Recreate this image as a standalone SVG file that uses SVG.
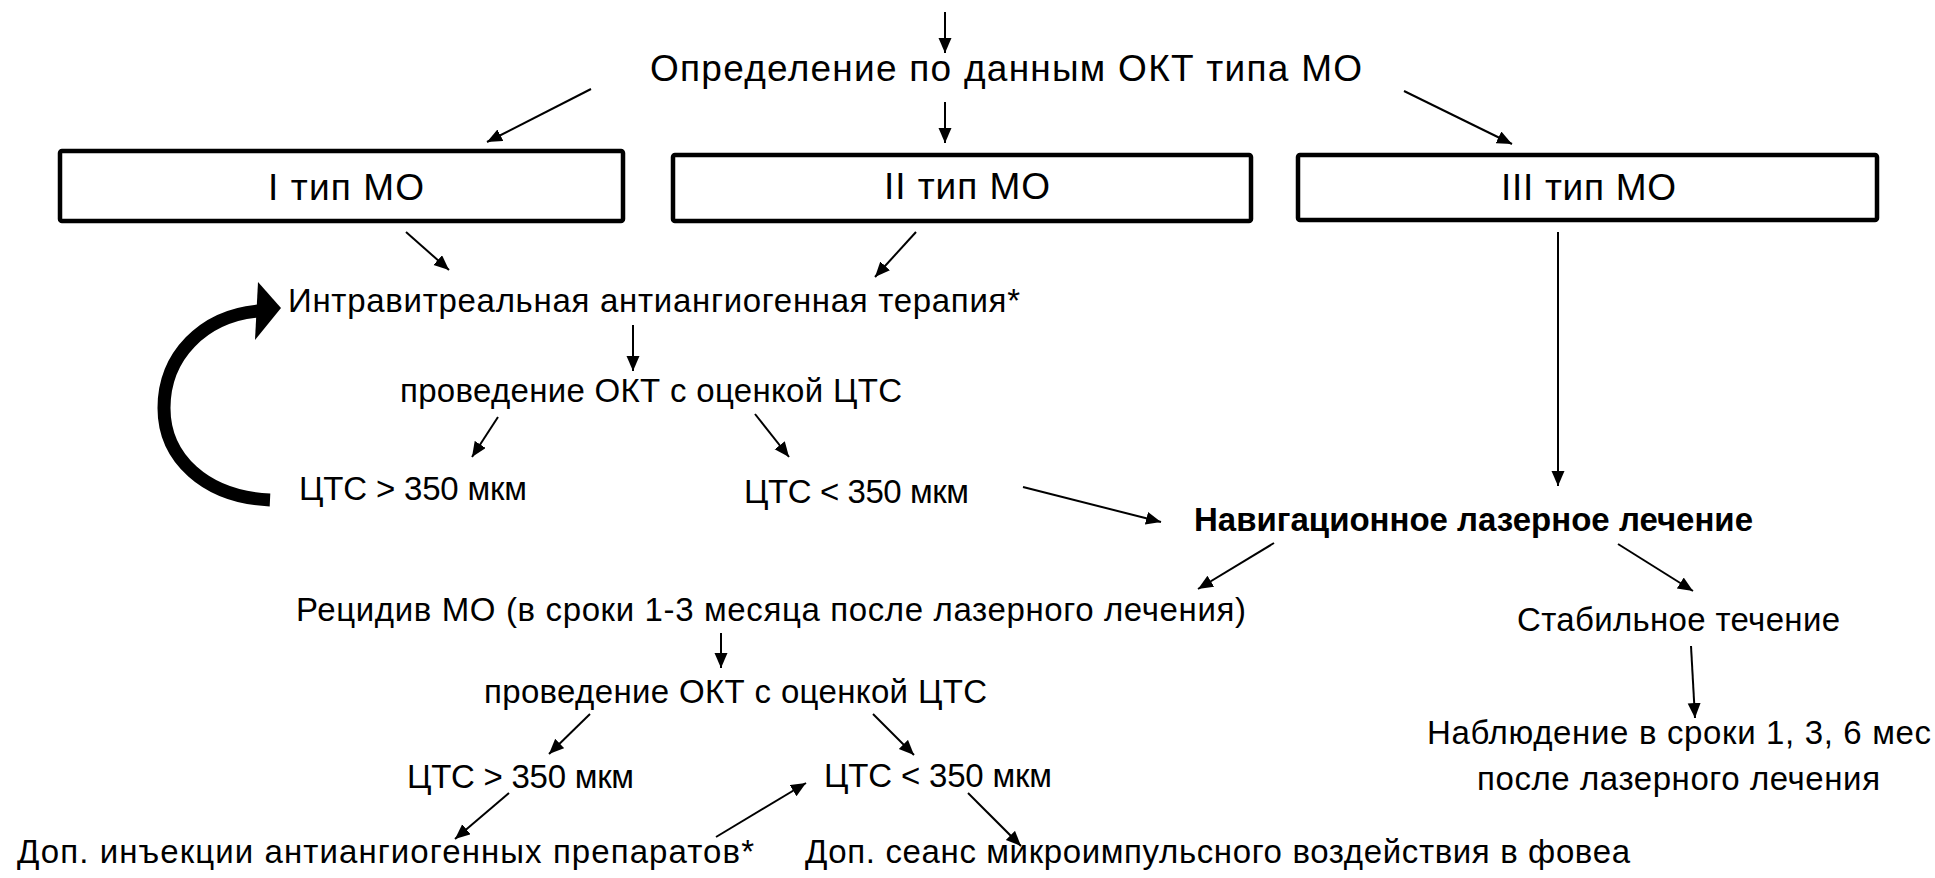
<svg xmlns="http://www.w3.org/2000/svg" width="1935" height="878" viewBox="0 0 1935 878">
<style>
  text { font-family: "Liberation Sans", Arial, sans-serif; font-size: 33px; fill: #000; }
  .b { font-weight: bold; }
  .lg { font-size: 37px; }
  .box { fill: #fff; stroke: #000; stroke-width: 4.5; }
  .c { stroke: #000; stroke-width: 2; fill: none; marker-end: url(#ah); }
</style>
<defs>
  <marker id="ah" markerUnits="userSpaceOnUse" markerWidth="16" markerHeight="14" refX="15" refY="6.5" orient="auto">
    <path d="M0,0 L15,6.5 L0,13 Z" fill="#000"/>
  </marker>
</defs>
<rect width="1935" height="878" fill="#fff"/>

<g id="connectors">
  <line class="c" x1="945" y1="12" x2="945" y2="53"/>
  <line class="c" x1="945" y1="102" x2="945" y2="143"/>
  <line class="c" x1="591" y1="89" x2="487" y2="142"/>
  <line class="c" x1="1404" y1="91" x2="1512" y2="144"/>
  <line class="c" x1="406" y1="232" x2="449" y2="270"/>
  <line class="c" x1="916" y1="232" x2="875" y2="277"/>
  <line class="c" x1="1558" y1="232" x2="1558" y2="486"/>
  <line class="c" x1="633" y1="325" x2="633" y2="371"/>
  <line class="c" x1="498" y1="417" x2="472" y2="457"/>
  <line class="c" x1="755" y1="414" x2="789" y2="457"/>
  <line class="c" x1="1023" y1="487" x2="1161" y2="522"/>
  <line class="c" x1="1274" y1="543" x2="1198" y2="589"/>
  <line class="c" x1="1618" y1="544" x2="1693" y2="591"/>
  <line class="c" x1="721" y1="633" x2="721" y2="668"/>
  <line class="c" x1="1691" y1="646" x2="1695" y2="718"/>
  <line class="c" x1="590" y1="714" x2="549" y2="754"/>
  <line class="c" x1="873" y1="714" x2="914" y2="755"/>
  <line class="c" x1="509" y1="793" x2="455" y2="839"/>
  <line class="c" x1="716" y1="837" x2="806" y2="783"/>
  <line class="c" x1="968" y1="793" x2="1021" y2="846"/>
  <g id="loop-arrow">
    <path d="M270,500 C205,497 164,458 164,408 C164,356 203,316 258,311" fill="none" stroke="#000" stroke-width="13"/>
    <polygon points="258,282 281,308 255,340" fill="#000"/>
  </g>
</g>

<g id="n-determine">
  <text class="lg" x="650" y="81" textLength="712">Определение по данным ОКТ типа МО</text>
</g>
<g id="n-type1">
  <rect class="box" x="60" y="151" width="563" height="70" rx="2"/>
  <text class="lg" x="268" y="200" textLength="156">I тип МО</text>
</g>
<g id="n-type2">
  <rect class="box" x="673" y="155" width="578" height="66" rx="2"/>
  <text class="lg" x="884" y="199" textLength="166">II тип МО</text>
</g>
<g id="n-type3">
  <rect class="box" x="1298" y="155" width="579" height="65" rx="2"/>
  <text class="lg" x="1501" y="200" textLength="175">III тип МО</text>
</g>
<g id="n-ivt">
  <text x="288" y="312" textLength="732">Интравитреальная  антиангиогенная терапия*</text>
</g>
<g id="n-oct1">
  <text x="400" y="402" textLength="502">проведение ОКТ с оценкой ЦТС</text>
</g>
<g id="n-gt1">
  <text x="299" y="500" textLength="228">ЦТС &gt; 350 мкм</text>
</g>
<g id="n-lt1">
  <text x="744" y="503" textLength="225">ЦТС &lt; 350 мкм</text>
</g>
<g id="n-laser">
  <text class="b" x="1194" y="531" textLength="559">Навигационное лазерное лечение</text>
</g>
<g id="n-relapse">
  <text x="296" y="621" textLength="950">Рецидив МО (в сроки 1-3 месяца после лазерного лечения)</text>
</g>
<g id="n-stable">
  <text x="1517" y="631" textLength="323">Стабильное течение</text>
</g>
<g id="n-oct2">
  <text x="484" y="703" textLength="503">проведение ОКТ с оценкой ЦТС</text>
</g>
<g id="n-observe">
  <text x="1427" y="744" textLength="504">Наблюдение в сроки 1, 3, 6 мес</text>
  <text x="1477" y="790" textLength="403">после лазерного лечения</text>
</g>
<g id="n-gt2">
  <text x="407" y="788" textLength="227">ЦТС &gt; 350 мкм</text>
</g>
<g id="n-lt2">
  <text x="824" y="787" textLength="228">ЦТС &lt; 350 мкм</text>
</g>
<g id="n-inject">
  <text x="17" y="863" textLength="737">Доп. инъекции  антиангиогенных препаратов*</text>
</g>
<g id="n-micro">
  <text x="805" y="863" textLength="825">Доп. сеанс микроимпульсного воздействия в фовеа</text>
</g>
</svg>
